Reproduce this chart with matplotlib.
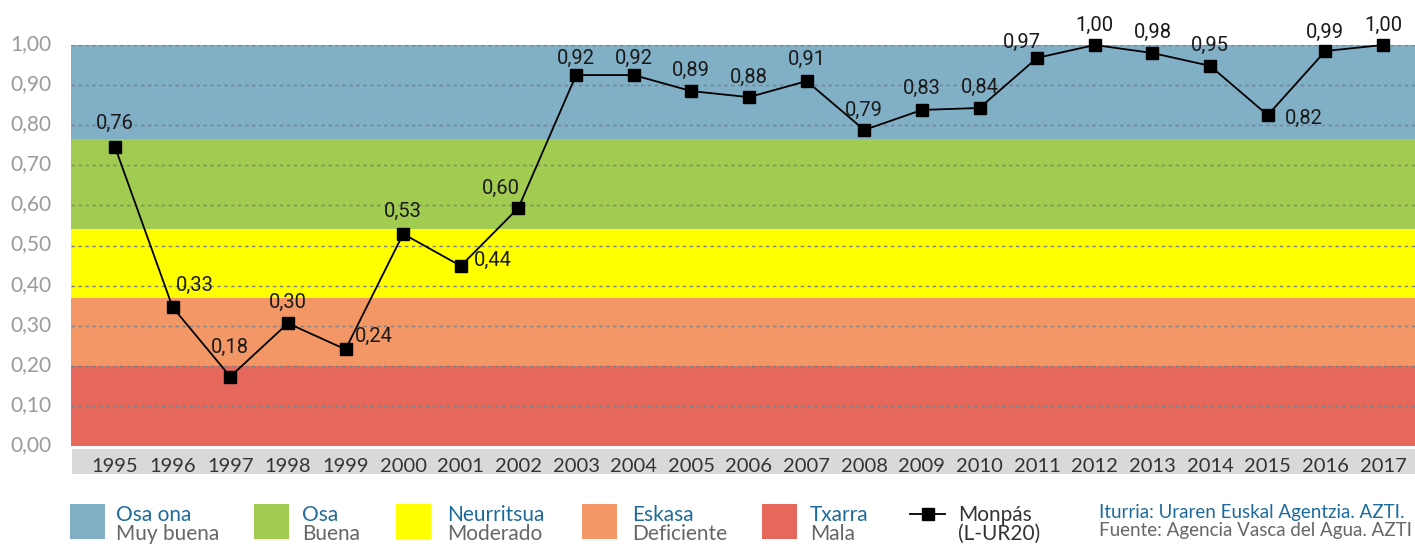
"""Monpás (L-UR20) quality index 1995-2017 with status bands."""

import matplotlib

matplotlib.use("Agg")
from matplotlib import pyplot as plt  # noqa: E402
from matplotlib.patches import Rectangle  # noqa: E402
from matplotlib.lines import Line2D  # noqa: E402
from matplotlib import transforms  # noqa: E402

W, H = 1415, 545

years = list(range(1995, 2018))
# marker positions as drawn in the reference
values = [0.746, 0.346, 0.173, 0.306, 0.241, 0.529, 0.449, 0.594, 0.925, 0.925,
          0.885, 0.870, 0.910, 0.788, 0.838, 0.843, 0.968, 1.000, 0.980, 0.948,
          0.825, 0.985, 1.000]
value_labels = ["0,76", "0,33", "0,18", "0,30", "0,24", "0,53", "0,44", "0,60",
                "0,92", "0,92", "0,89", "0,88", "0,91", "0,79", "0,83", "0,84",
                "0,97", "1,00", "0,98", "0,95", "0,82", "0,99", "1,00"]

# status bands: (lower, upper)
band_limits = [(0.0, 0.20), (0.20, 0.37), (0.37, 0.54), (0.54, 0.765), (0.765, 1.0)]
band_colors = ["#E6675B", "#F39766", "#FFFF00", "#A2CB51", "#80AFC6"]

legend_top = ["Osa ona", "Osa", "Neurritsua", "Eskasa", "Txarra"]
legend_bottom = ["Muy buena", "Buena", "Moderado", "Deficiente", "Mala"]
legend_colors = ["#80AFC6", "#A2CB51", "#FFFF00", "#F39766", "#E6675B"]
series_name = ["Monpás", "(L-UR20)"]
source_lines = ["Iturria: Uraren Euskal Agentzia. AZTI.",
                "Fuente: Agencia Vasca del Agua. AZTI"]

# label offsets in pixels (dx, dy)
LABEL_OFFSETS = [(0, 23), (22, 22), (0, 29), (0, 21), (28, 13), (0, 22), (32, 6),
                 (-18, 19), (0, 17), (0, 17), (0, 21), (0, 20), (0, 22), (0, 20),
                 (0, 22), (0, 21), (-15, 15), (0, 20), (0, 21), (0, 20), (36, -3),
                 (0, 19), (0, 20)]

BLUE_TEXT = "#1D6B9C"
GRAY_TEXT = "#666666"
LABEL_FONT = ["Roboto", "DejaVu Sans"]

plt.rcParams["font.family"] = ["Lato", "DejaVu Sans"]


def fx(x):
    return x / W


def fy(y):
    return 1 - y / H


fig = plt.figure(figsize=(W / 100, H / 100), dpi=100)
ax = fig.add_axes([fx(71), fy(446), fx(1415) - fx(71), fy(45) - fy(446)])

for (lo, hi), color in zip(band_limits, band_colors):
    ax.axhspan(lo, hi, color=color, lw=0, zorder=0)

for yv in [i / 10 for i in range(1, 11)]:
    ax.axhline(yv, color="#808080", lw=1.0, ls=(0, (2.5, 2.5)), zorder=1)

ax.plot(years, values, color="black", lw=1.3, marker="s", markersize=9,
        zorder=3, clip_on=False)

for x, y, text, (dx, dy) in zip(years, values, value_labels, LABEL_OFFSETS):
    ax.annotate(text, (x, y), xytext=(dx, dy), textcoords="offset pixels",
                ha="center", va="center", fontsize=14.5,
                color="#1A1A1A", family=LABEL_FONT, zorder=4)

ax.set_xlim(1995 - 0.763, 2017 + 0.555)
ax.set_ylim(0, 1.0)
ax.set_xticks(years)
ax.set_yticks([i / 10 for i in range(11)])
ax.set_yticklabels([f"{i / 10:.2f}".replace(".", ",") for i in range(11)])
ax.tick_params(axis="y", length=0, pad=14, labelsize=15, labelcolor="#9A9A9A")
ax.tick_params(axis="x", length=0, pad=8.5, labelsize=14.5, labelcolor="#333333")
for spine in ax.spines.values():
    spine.set_visible(False)

shift = transforms.ScaledTranslation(0, 3 / 100, fig.dpi_scale_trans)
for lbl in ax.get_yticklabels():
    lbl.set_transform(lbl.get_transform() + shift)

# gray strip behind the year labels
fig.patches.append(Rectangle((fx(72), fy(474)), fx(1415) - fx(72), fy(449) - fy(474),
                             transform=fig.transFigure, facecolor="#D9D9DA",
                             edgecolor="none", zorder=-1))

# legend
patch_x = [70, 254, 396, 582, 762]
text_x = [116, 302, 447, 632, 810]
for px, tx, top, bottom, color in zip(patch_x, text_x, legend_top, legend_bottom,
                                      legend_colors):
    fig.patches.append(Rectangle((fx(px), fy(539)), fx(35), fy(504) - fy(539),
                                 transform=fig.transFigure, facecolor=color,
                                 edgecolor="none"))
    fig.text(fx(tx), fy(521), top, color=BLUE_TEXT, fontsize=15, va="baseline")
    fig.text(fx(tx), fy(540), bottom, color=GRAY_TEXT, fontsize=15, va="baseline")

fig.lines.append(Line2D([fx(910), fx(945)], [fy(514), fy(514)], transform=fig.transFigure,
                        color="black", lw=1.3, zorder=5))
fig.lines.append(Line2D([fx(927.5)], [fy(514)], transform=fig.transFigure,
                        color="black", marker="s", markersize=8, ls="none", zorder=6))
fig.text(fx(958), fy(521), series_name[0], color="#333333", fontsize=15, va="baseline")
fig.text(fx(958), fy(540), series_name[1], color="#333333", fontsize=15, va="baseline")

fig.text(fx(1099), fy(518), source_lines[0], color=BLUE_TEXT, fontsize=13.5, va="baseline")
fig.text(fx(1099), fy(536), source_lines[1], color=GRAY_TEXT, fontsize=13.5, va="baseline")

fig.savefig("out.png", dpi=100)
